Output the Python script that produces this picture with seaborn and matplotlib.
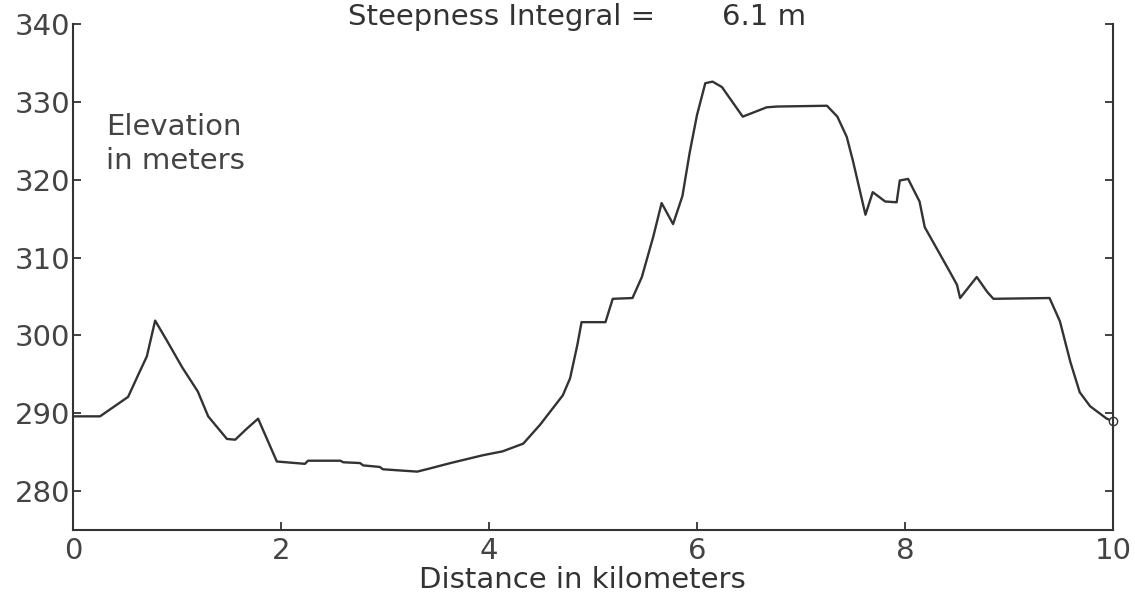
import matplotlib
matplotlib.use("Agg")
import matplotlib.pyplot as plt
import pandas as pd
import seaborn as sns

# profile (km, m)
distance_km = [0.0, 0.26, 0.53, 0.64, 0.71, 0.79, 0.90, 1.05, 1.20, 1.30,
               1.48, 1.56, 1.67, 1.78, 1.96, 2.23, 2.26, 2.57, 2.60, 2.76,
               2.79, 2.95, 2.98, 3.31, 3.43, 3.63, 3.94, 4.13, 4.33, 4.49,
               4.71, 4.78, 4.85, 4.89, 5.12, 5.19, 5.38, 5.47, 5.58, 5.66,
               5.77, 5.86, 5.93, 6.00, 6.08, 6.15, 6.24, 6.44, 6.67, 6.77,
               7.25, 7.35, 7.44, 7.50, 7.62, 7.69, 7.81, 7.92, 7.95, 8.03,
               8.14, 8.19, 8.43, 8.50, 8.53, 8.69, 8.79, 8.85, 9.39, 9.49,
               9.59, 9.68, 9.78, 9.94, 10.0]
elevation_m = [289.6, 289.6, 292.1, 295.3, 297.3, 301.9, 299.4, 295.9, 292.8, 289.6,
               286.7, 286.6, 288.0, 289.3, 283.8, 283.5, 283.9, 283.9, 283.7, 283.6,
               283.3, 283.1, 282.8, 282.5, 282.9, 283.6, 284.6, 285.1, 286.1, 288.5,
               292.3, 294.5, 298.8, 301.7, 301.7, 304.7, 304.8, 307.5, 312.7, 317.0,
               314.3, 317.9, 323.5, 328.3, 332.4, 332.6, 331.9, 328.1, 329.3, 329.4,
               329.5, 328.1, 325.5, 322.4, 315.5, 318.4, 317.2, 317.1, 319.9, 320.1,
               317.2, 313.9, 308.2, 306.5, 304.8, 307.5, 305.6, 304.7, 304.8, 301.8,
               296.6, 292.7, 290.9, 289.3, 289.0]

x_ticks = [0, 2, 4, 6, 8, 10]
y_ticks = [280, 290, 300, 310, 320, 330, 340]
steepness_label = "Steepness Integral ="
steepness_value = "6.1 m"

ink = "#333333"


def main():
    sns.set_style("ticks")
    plt.rcParams["font.family"] = ["DejaVu Sans"]

    df = pd.DataFrame({"distance": distance_km, "elevation": elevation_m})

    fig = plt.figure(figsize=(11.35, 6.02), dpi=100)
    ax = fig.add_axes([0.0643, 0.1196, 0.9163, 0.8405])

    sns.lineplot(data=df, x="distance", y="elevation", color=ink,
                 linewidth=1.7, sort=False, ax=ax)
    # little open circle at the end of the profile
    ax.plot(distance_km[-1], elevation_m[-1], marker="o", markersize=6,
            markerfacecolor="white", markeredgecolor=ink, clip_on=False)

    ax.set_xlim(0, 10)
    ax.set_ylim(275, 340)
    ax.set_xticks(x_ticks)
    ax.set_yticks(y_ticks)

    ax.spines["top"].set_visible(False)
    for side in ["left", "right", "bottom"]:
        ax.spines[side].set_color(ink)
        ax.spines[side].set_linewidth(1.5)

    ax.tick_params(axis="both", direction="in", length=6, width=1.3,
                   colors=ink, labelsize=21, labelcolor="#444444")
    ax.tick_params(axis="y", right=True, pad=2)
    ax.tick_params(axis="x", pad=5)

    ax.set_xlabel("Distance in kilometers", fontsize=21, color=ink)
    ax.set_ylabel("")
    ax.xaxis.set_label_coords(0.49, -0.072)

    ax.text(0.032, 0.825, "Elevation\nin meters", transform=ax.transAxes,
            fontsize=21, color="#444444", va="top", ha="left", linespacing=1.3)

    fig.text(348 / 1135, 1 - 25 / 602, steepness_label, fontsize=21,
             color=ink, va="baseline", ha="left")
    fig.text(722 / 1135, 1 - 25 / 602, steepness_value, fontsize=21,
             color=ink, va="baseline", ha="left")

    fig.savefig("out.png", dpi=100, facecolor="white")
    plt.close(fig)


if __name__ == "__main__":
    main()
